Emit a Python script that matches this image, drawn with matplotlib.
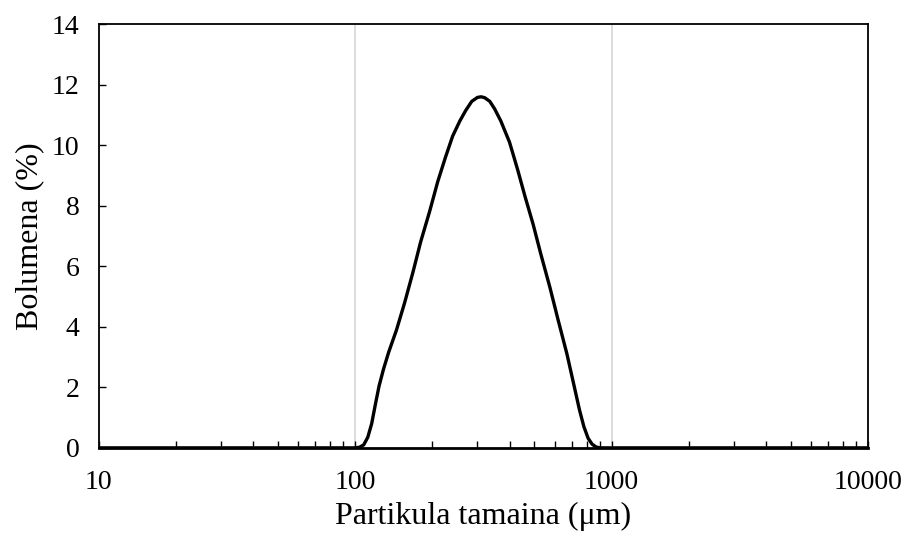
import matplotlib
matplotlib.use("Agg")
import matplotlib.pyplot as plt
from matplotlib.ticker import LogLocator, FixedLocator, NullFormatter

plt.rcParams['font.family'] = ['Liberation Serif', 'DejaVu Serif']

# particle size (um) and volume (%)
size = [10, 100, 104, 108, 112, 116, 120, 124, 129, 135, 145, 156, 168, 180, 195,
        210, 225, 240, 256, 270, 285, 300, 310, 320, 335, 350, 370, 400, 430, 460, 494,
        530, 575, 620, 670, 710, 750, 780, 810, 840, 870, 900, 10000]
volume = [0, 0, 0.02, 0.1, 0.35, 0.8, 1.45, 2.05, 2.6, 3.15, 3.9, 4.8, 5.8, 6.8, 7.8,
          8.8, 9.6, 10.3, 10.8, 11.15, 11.45, 11.58, 11.6, 11.57, 11.45, 11.2, 10.8, 10.1, 9.2, 8.3, 7.4,
          6.4, 5.3, 4.2, 3.1, 2.15, 1.25, 0.7, 0.32, 0.12, 0.03, 0, 0]
xticks = [10, 100, 1000, 10000]
yticks = [0, 2, 4, 6, 8, 10, 12, 14]

fig = plt.figure(figsize=(9.06, 5.37), dpi=100)
ax = fig.add_axes([0.109, 0.166, 0.849, 0.789])

for g in [100, 1000]:
    ax.axvline(g, color='#d9d9d9', lw=1.3, zorder=0)

ax.plot(size, volume, color='black', lw=2.4, solid_joinstyle='round', solid_capstyle='round', zorder=3)

ax.set_xscale('log')
ax.set_xlim(10, 10000)
ax.set_ylim(0, 14)
ax.xaxis.set_major_locator(FixedLocator(xticks))
ax.set_xticklabels([str(t) for t in xticks])
ax.xaxis.set_minor_locator(LogLocator(base=10, subs=range(2, 10)))
ax.xaxis.set_minor_formatter(NullFormatter())
ax.set_yticks(yticks)

ax.tick_params(axis='both', which='major', direction='in', length=5, width=1, labelsize=20, colors='black')
ax.tick_params(axis='x', which='minor', direction='in', length=5, width=1)
ax.tick_params(axis='x', pad=16)
ax.tick_params(axis='y', pad=14)
ax.tick_params(axis='y', which='both', right=False)
ax.tick_params(axis='x', which='both', top=False)

for s in ax.spines.values():
    s.set_linewidth(1.3)
    s.set_color('black')
ax.spines['bottom'].set_linewidth(2)

xl = ax.set_xlabel('Partikula tamaina (μm)', fontsize=23)
yl = ax.set_ylabel('Bolumena (%)', fontsize=23)
ax.xaxis.set_label_coords(0.5, -0.161)
xl.set_va('center')
ax.yaxis.set_label_coords(-0.09, 0.5)
yl.set_va('center')
yl.set_ha('center')

fig.savefig('out.png', dpi=100)
